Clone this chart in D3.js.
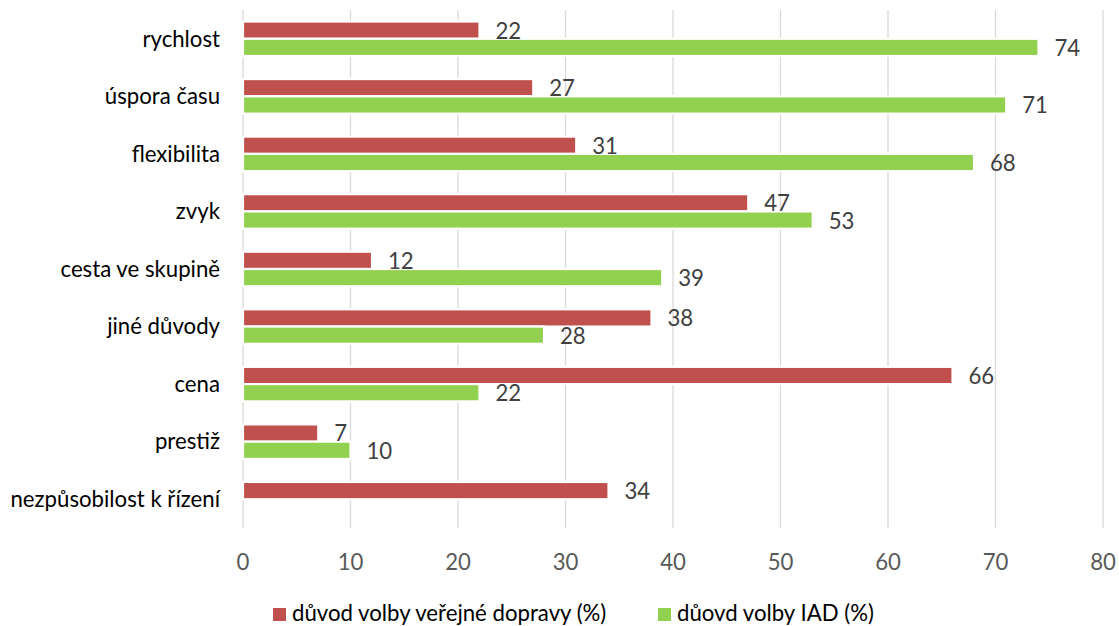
<!DOCTYPE html>
<html>
<head>
<meta charset="utf-8">
<script src="https://cdn.jsdelivr.net/npm/d3@7"></script>
<style>
  body { margin: 0; background: #fff; }
  svg { display: block; font-family: Lato, "Open Sans", sans-serif; }
</style>
</head>
<body>
<svg id="chart" width="1119" height="626"></svg>
<script>
const categories = ["rychlost", "úspora času", "flexibilita", "zvyk", "cesta ve skupině",
  "jiné důvody", "cena", "prestiž", "nezpůsobilost k řízení"];
const publicTransport = [22, 27, 31, 47, 12, 38, 66, 7, 34];
const carTravel = [74, 71, 68, 53, 39, 28, 22, 10, null];
const seriesNames = ["důvod volby veřejné dopravy (%)", "důovd volby IAD (%)"];
const seriesColors = ["#C0504D", "#92D050"];
const xTicks = [0, 10, 20, 30, 40, 50, 60, 70, 80];

const svg = d3.select("#chart");
const margin = { left: 243, right: 16, top: 10, bottom: 98 };
const W = 1119, H = 626;
const fs = 22.2;

const x = d3.scaleLinear().domain([0, 80]).range([margin.left, W - margin.right]);
const y = d3.scaleBand().domain(categories).range([margin.top, H - margin.bottom])
  .paddingInner(0.4).paddingOuter(0.2);
const sub = d3.scaleBand().domain([0, 1]).range([0, y.bandwidth()]);

// vertical gridlines
svg.append("g").selectAll("line").data(xTicks).join("line")
  .attr("x1", d => x(d)).attr("x2", d => x(d))
  .attr("y1", margin.top).attr("y2", H - margin.bottom)
  .attr("stroke", "#d9d9d9").attr("stroke-width", 1.3);

// x tick labels
svg.append("g").selectAll("text").data(xTicks).join("text")
  .attr("x", d => x(d)).attr("y", 570)
  .attr("text-anchor", "middle").attr("font-size", fs).attr("fill", "#595959")
  .text(d => d);

// category labels
svg.append("g").selectAll("text").data(categories).join("text")
  .attr("x", 220).attr("y", d => y(d) + y.bandwidth() / 2)
  .attr("dy", "0.35em").attr("text-anchor", "end")
  .attr("font-size", fs).attr("fill", "#000")
  .text(d => d);

const rows = [];
categories.forEach((c, i) => {
  [publicTransport[i], carTravel[i]].forEach((v, s) => {
    if (v != null) rows.push({ c, v, s });
  });
});

// bars
svg.append("g").selectAll("rect").data(rows).join("rect")
  .attr("x", x(0))
  .attr("y", d => y(d.c) + sub(d.s))
  .attr("width", d => x(d.v) - x(0))
  .attr("height", sub.bandwidth())
  .attr("fill", d => seriesColors[d.s])
  .attr("stroke", "#fff").attr("stroke-width", 2.2);

// value labels
svg.append("g").selectAll("text").data(rows).join("text")
  .attr("x", d => x(d.v) + 16)
  .attr("y", d => y(d.c) + sub(d.s) + sub.bandwidth() / 2)
  .attr("dy", "0.38em")
  .attr("font-size", fs).attr("fill", "#404040")
  .text(d => d.v);

// legend
const legend = svg.append("g");
const legendX = [273, 658];
seriesNames.forEach((n, i) => {
  legend.append("rect").attr("x", legendX[i]).attr("y", 608).attr("width", 13).attr("height", 13)
    .attr("fill", seriesColors[i]);
  legend.append("text").attr("x", legendX[i] + 19).attr("y", 621)
    .attr("font-size", fs).attr("fill", "#000").text(n);
});
</script>
</body>
</html>
